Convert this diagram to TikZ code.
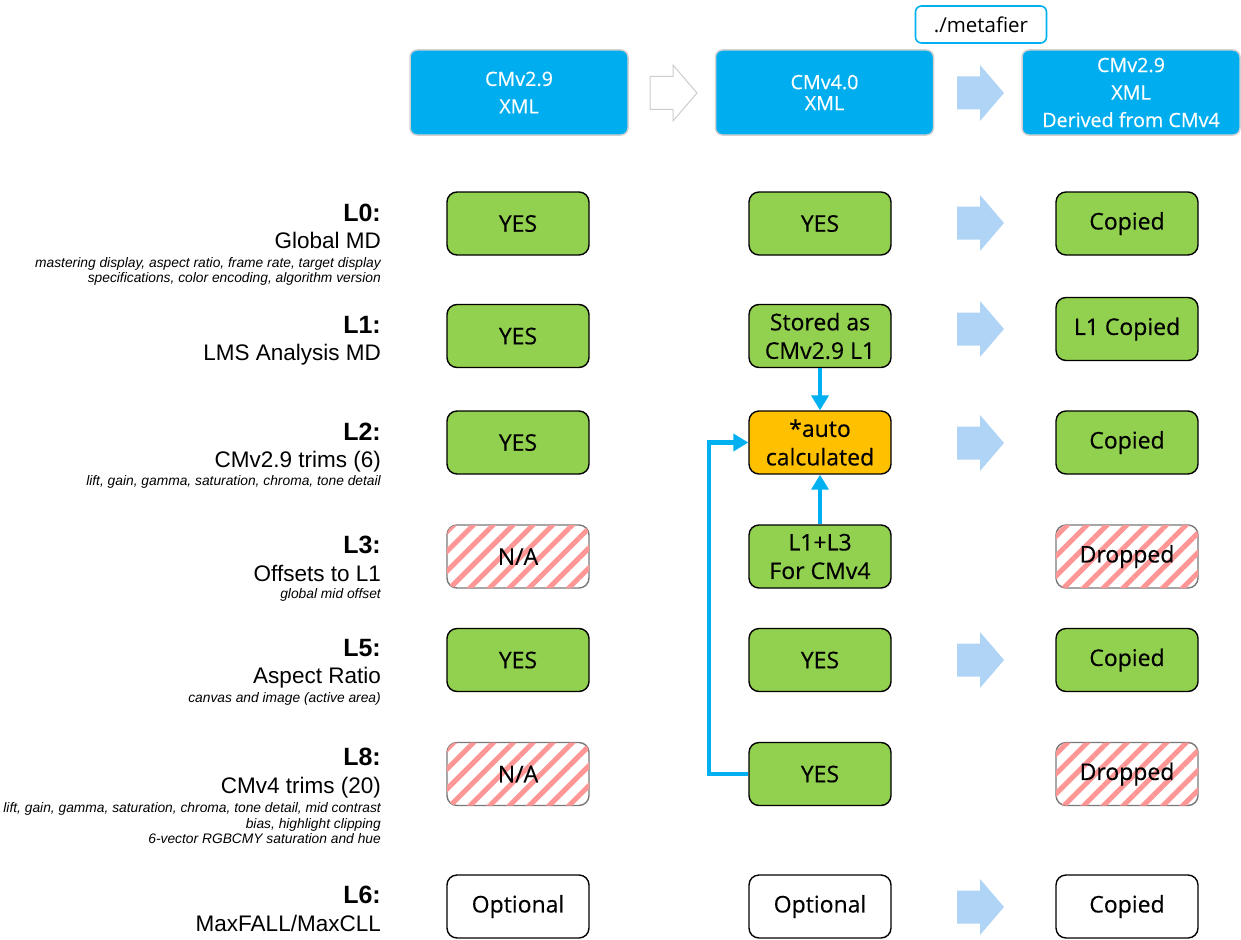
\documentclass[tikz,border=0pt]{standalone}
\usepackage{fontspec}
\setmainfont{Open Sans}
\newfontfamily\boxfont{Open Sans}[FakeBold=0.35]
\newfontfamily\labfont{Liberation Sans}
\usetikzlibrary{arrows.meta,patterns.meta}
\definecolor{hdrblue}{RGB}{0,174,239}
\definecolor{okgreen}{RGB}{146,208,80}
\definecolor{autoorange}{RGB}{255,192,0}
\definecolor{arrblue}{RGB}{176,212,245}
\definecolor{connblue}{RGB}{0,176,240}
\definecolor{stripered}{RGB}{255,150,150}
\definecolor{hatchborder}{RGB}{120,120,120}
\newcommand\blockarrow[3]{%
  \path[#3] (#1-23,#2-16.5) -- (#1,#2-16.5) -- (#1,#2-28) -- (#1+24,#2)
    -- (#1,#2+28) -- (#1,#2+16.5) -- (#1-23,#2+16.5) -- cycle;}
\begin{document}
\begin{tikzpicture}[x=1pt,y=-1pt,
  every node/.style={inner sep=0pt},
  hdr/.style={draw=black!18, line width=1.5pt, fill=hdrblue, rounded corners=7pt,
    minimum width=218pt, minimum height=85pt, text=white, align=center,
    font=\boxfont\fontsize{19.7}{27.5}\selectfont},
  cell/.style={draw=black, line width=1.4pt, rounded corners=10pt,
    minimum width=142pt, minimum height=63pt, align=center,
    font=\boxfont\fontsize{23}{28.5}\selectfont},
  yes/.style={cell, fill=okgreen},
  auto/.style={cell, fill=autoorange},
  plain/.style={cell, fill=white},
  hatch/.style={cell, draw=hatchborder, fill=white,
    postaction={pattern={Lines[angle=45,distance=14pt,line width=5pt]},
      pattern color=stripered}},
  lbold/.style={anchor=base east, font=\labfont\bfseries\fontsize{25}{30}\selectfont},
  lmain/.style={anchor=base east, font=\labfont\fontsize{22.5}{26}\selectfont},
  lsmall/.style={anchor=base east, font=\labfont\itshape\fontsize{13.8}{16}\selectfont},
  conn/.style={draw=connblue, line width=4.5pt, -{Triangle[width=17pt,length=15pt]}},
  fatarr/.style={fill=arrblue},
  hollowarr/.style={draw=black!20, line width=1pt, fill=white}
]
\useasboundingbox (0,0) rectangle (1241,939);

% header
\node[draw=connblue, line width=1.6pt, rounded corners=6pt, minimum width=131pt,
  minimum height=37pt, font=\fontsize{20.5}{24}\selectfont] (meta) at (981,24.5) {./metafier};
\node[hdr] (h1) at (519,92.5) {CMv2.9\\XML};
\node[hdr, font=\boxfont\fontsize{19.7}{21}\selectfont] (h2) at (824.5,92.5) {CMv4.0\\XML};
\node[hdr] (h3) at (1131,92.5) {CMv2.9\\XML\\Derived from CMv4};
\blockarrow{673}{93}{hollowarr}
\blockarrow{980}{93}{fatarr}

% left labels
\node[lbold] (t0) at (381,221) {L0:};
\node[lmain] (m0) at (381,248) {Global MD};
\node[lsmall] (s0a) at (381,267) {mastering display, aspect ratio, frame rate, target display};
\node[lsmall] (s0b) at (381,282) {specifications, color encoding, algorithm version};

\node[lbold] (t1) at (381,333) {L1:};
\node[lmain] (m1) at (381,360) {LMS Analysis MD};

\node[lbold] (t2) at (381,440) {L2:};
\node[lmain] (m2) at (381,467) {CMv2.9 trims (6)};
\node[lsmall] (s2) at (381,485) {lift, gain, gamma, saturation, chroma, tone detail};

\node[lbold] (t3) at (381,553) {L3:};
\node[lmain] (m3) at (381,581) {Offsets to L1};
\node[lsmall] (s3) at (381,598) {global mid offset};

\node[lbold] (t5) at (381,656) {L5:};
\node[lmain] (m5) at (381,683) {Aspect Ratio};
\node[lsmall] (s5) at (381,702) {canvas and image (active area)};

\node[lbold] (t8) at (381,765) {L8:};
\node[lmain] (m8) at (381,793) {CMv4 trims (20)};
\node[lsmall] (s8a) at (381,812) {lift, gain, gamma, saturation, chroma, tone detail, mid contrast};
\node[lsmall] (s8b) at (381,828) {bias, highlight clipping};
\node[lsmall] (s8c) at (381,843) {6-vector RGBCMY saturation and hue};

\node[lbold] (t6) at (381,903) {L6:};
\node[lmain] (m6) at (381,931) {MaxFALL/MaxCLL};

% column 1
\node[yes] (a0) at (518,223.5) {YES};
\node[yes] (a1) at (518,336) {YES};
\node[yes] (a2) at (518,442.5) {YES};
\node[hatch] (a3) at (518,556.5) {N/A};
\node[yes] (a5) at (518,660) {YES};
\node[hatch] (a8) at (518,774) {N/A};
\node[plain] (a6) at (518,906.5) {Optional};

% column 2
\node[yes] (b0) at (820,223.5) {YES};
\node[yes] (b1) at (820,336) {Stored as\\CMv2.9 L1};
\node[auto] (b2) at (820,442.5) {*auto\\calculated};
\node[yes] (b3) at (820,556.5) {L1+L3\\For CMv4};
\node[yes] (b5) at (820,660) {YES};
\node[yes] (b8) at (820,774) {YES};
\node[plain] (b6) at (820,906.5) {Optional};

% column 3
\node[yes] (c0) at (1127,223.5) {Copied};
\node[yes] (c1) at (1127,329) {L1 Copied};
\node[yes] (c2) at (1127,442.5) {Copied};
\node[hatch] (c3) at (1127,556.5) {Dropped};
\node[yes] (c5) at (1127,660) {Copied};
\node[hatch] (c8) at (1127,774) {Dropped};
\node[plain] (c6) at (1127,906.5) {Copied};

% row arrows
\blockarrow{980}{223}{fatarr}
\blockarrow{980}{329}{fatarr}
\blockarrow{980}{443}{fatarr}
\blockarrow{980}{660}{fatarr}
\blockarrow{980}{907}{fatarr}

% connectors
\coordinate (bend) at (709,774);
\draw[conn] (b1.south) -- (b2.north);
\draw[conn] (b3.north) -- (b2.south);
\draw[conn] (b8.west) -- (bend) |- (b2.west);
\end{tikzpicture}
\end{document}
